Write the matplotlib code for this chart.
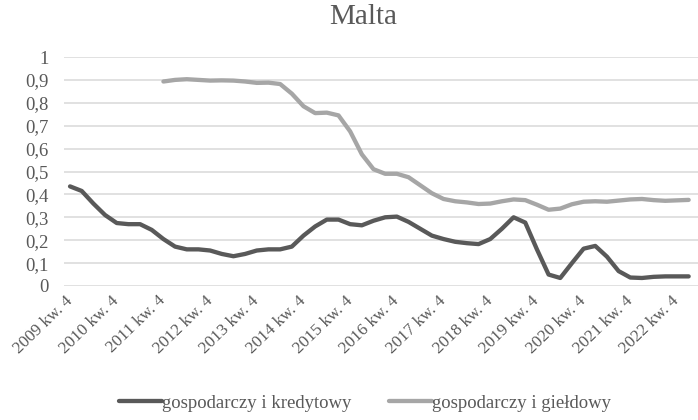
import matplotlib.pyplot as plt
import numpy as np

plt.rcParams['font.family'] = 'Liberation Serif'

# quarters 2009 Q4 .. 2023 Q1
quarters = ['2009 kw. 4'] + [f'{y} kw. {q}' for y in range(2010, 2023) for q in range(1, 5)] + ['2023 kw. 1']

kredytowy = [0.435, 0.415, 0.36, 0.31, 0.275, 0.27, 0.27, 0.245, 0.205, 0.172,
             0.16, 0.16, 0.155, 0.14, 0.13, 0.14, 0.155, 0.16, 0.16, 0.172,
             0.22, 0.26, 0.29, 0.29, 0.27, 0.265, 0.285, 0.30, 0.303, 0.28,
             0.25, 0.22, 0.205, 0.193, 0.187, 0.183, 0.205, 0.25, 0.30, 0.277,
             0.16, 0.05, 0.035, 0.10, 0.163, 0.175, 0.128, 0.065, 0.037, 0.035,
             0.04, 0.042, 0.042, 0.042]

gieldowy = [None] * 8 + [0.893, 0.90, 0.903, 0.90, 0.897, 0.898, 0.897, 0.893, 0.887, 0.888,
                         0.882, 0.84, 0.785, 0.755, 0.757, 0.745, 0.675, 0.575, 0.51, 0.49,
                         0.49, 0.475, 0.44, 0.405, 0.38, 0.37, 0.365, 0.358, 0.36, 0.37,
                         0.378, 0.375, 0.355, 0.333, 0.338, 0.357, 0.368, 0.37, 0.368, 0.373,
                         0.378, 0.38, 0.375, 0.372, 0.374, 0.376]

yticks = [0, 0.1, 0.2, 0.3, 0.4, 0.5, 0.6, 0.7, 0.8, 0.9, 1]
ylabels = ['0', '0,1', '0,2', '0,3', '0,4', '0,5', '0,6', '0,7', '0,8', '0,9', '1']

text_color = '#595959'

fig = plt.figure(figsize=(6.98, 4.2), dpi=100)
ax = fig.add_axes([64.2 / 698, 134 / 420, (698 - 64.2) / 698, 229 / 420])

x = np.arange(len(quarters))
g = np.array([np.nan if v is None else v for v in gieldowy])

ax.plot(x, kredytowy, color='#595959', lw=3.1, solid_joinstyle='round',
        solid_capstyle='round', label='gospodarczy i kredytowy', zorder=3)
ax.plot(x, g, color='#a6a6a6', lw=3.1, solid_joinstyle='round',
        solid_capstyle='round', label='gospodarczy i giełdowy', zorder=3)

ax.set_xlim(-0.5, 53.8)
ax.set_ylim(0, 1)
ax.set_yticks(yticks)
ax.set_yticklabels(ylabels)
ax.yaxis.grid(True, color='#d9d9d9', lw=1.1)
ax.set_axisbelow(True)
for s in ax.spines.values():
    s.set_visible(False)

tick_pos = x[::4]
ax.set_xticks(tick_pos)
ax.set_xticklabels([quarters[i] for i in tick_pos], rotation=44, ha='right',
                   va='center', rotation_mode='anchor')
ax.tick_params(axis='both', length=0, colors=text_color)
ax.tick_params(axis='y', pad=11, labelsize=13.5)
ax.tick_params(axis='x', pad=9, labelsize=12.3)

fig.text(363 / 698, 1 - 17 / 420, 'Malta', ha='center', va='center',
         fontsize=21, color=text_color)

leg = fig.legend(loc='center', bbox_to_anchor=(365 / 698, 1 - 403 / 420), ncol=2,
                 frameon=False, fontsize=13.5, handlelength=2.3, handletextpad=0.0,
                 columnspacing=2.0, borderpad=0)
for t in leg.get_texts():
    t.set_color(text_color)

fig.savefig('out.png', dpi=100, facecolor='white')
